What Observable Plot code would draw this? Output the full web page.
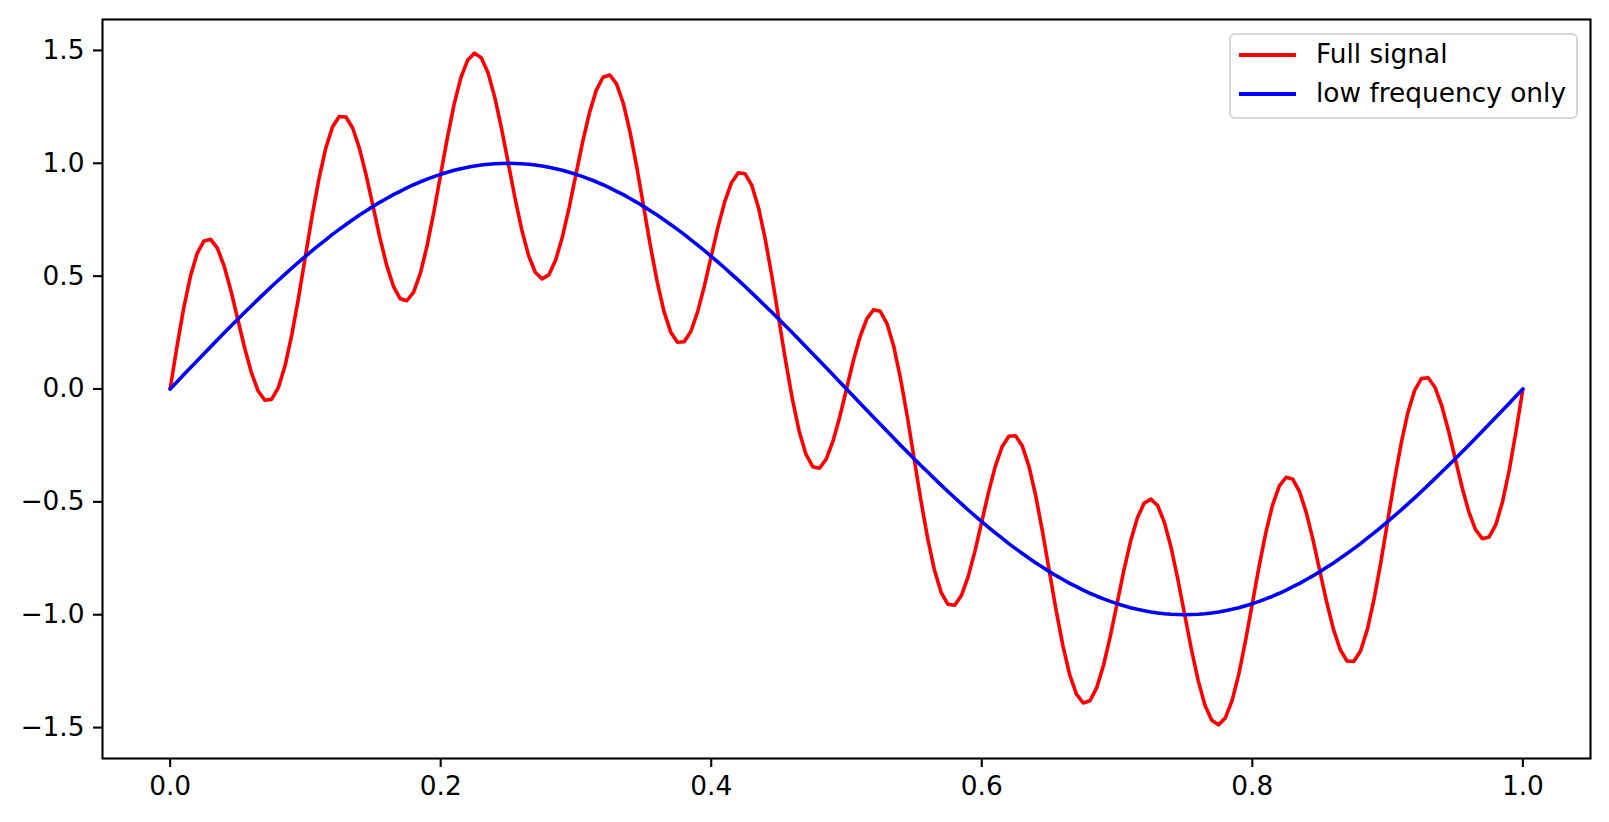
<!DOCTYPE html>
<html>
<head>
<meta charset="utf-8">
<script src="https://cdn.jsdelivr.net/npm/d3@7"></script>
<script src="https://cdn.jsdelivr.net/npm/@observablehq/plot@0.6"></script>
<style>
  html, body { margin: 0; padding: 0; background: #fff; }
  #wrap { position: relative; width: 1609px; height: 822px; font-family: "DejaVu Sans", sans-serif; }
  #legend { position: absolute; left: 1229px; top: 33px; width: 345px; height: 82px;
    border: 2px solid #d6d6d6; border-radius: 6px; background: rgba(255,255,255,0.8); box-sizing: content-box; }
  .item { position: absolute; left: 0; height: 30px; display: flex; align-items: center; font-size: 26.4px; color: #000; white-space: nowrap; }
  .swatch { position: absolute; left: 8px; width: 57px; height: 3.5px; }
  .label { position: absolute; left: 85px; line-height: 30px; top: -16px; }
</style>
</head>
<body>
<div id="wrap"></div>
<script>
const xs = [
0.000,0.005,0.010,0.015,0.020,0.025,0.030,0.035,0.040,0.045,
0.050,0.055,0.060,0.065,0.070,0.075,0.080,0.085,0.090,0.095,
0.100,0.105,0.110,0.115,0.120,0.125,0.130,0.135,0.140,0.145,
0.150,0.155,0.160,0.165,0.170,0.175,0.180,0.185,0.190,0.195,
0.200,0.205,0.210,0.215,0.220,0.225,0.230,0.235,0.240,0.245,
0.250,0.255,0.260,0.265,0.270,0.275,0.280,0.285,0.290,0.295,
0.300,0.305,0.310,0.315,0.320,0.325,0.330,0.335,0.340,0.345,
0.350,0.355,0.360,0.365,0.370,0.375,0.380,0.385,0.390,0.395,
0.400,0.405,0.410,0.415,0.420,0.425,0.430,0.435,0.440,0.445,
0.450,0.455,0.460,0.465,0.470,0.475,0.480,0.485,0.490,0.495,
0.500,0.505,0.510,0.515,0.520,0.525,0.530,0.535,0.540,0.545,
0.550,0.555,0.560,0.565,0.570,0.575,0.580,0.585,0.590,0.595,
0.600,0.605,0.610,0.615,0.620,0.625,0.630,0.635,0.640,0.645,
0.650,0.655,0.660,0.665,0.670,0.675,0.680,0.685,0.690,0.695,
0.700,0.705,0.710,0.715,0.720,0.725,0.730,0.735,0.740,0.745,
0.750,0.755,0.760,0.765,0.770,0.775,0.780,0.785,0.790,0.795,
0.800,0.805,0.810,0.815,0.820,0.825,0.830,0.835,0.840,0.845,
0.850,0.855,0.860,0.865,0.870,0.875,0.880,0.885,0.890,0.895,
0.900,0.905,0.910,0.915,0.920,0.925,0.930,0.935,0.940,0.945,
0.950,0.955,0.960,0.965,0.970,0.975,0.980,0.985,0.990,0.995,
1.000
];

const fullSignal = [
0.000,0.186,0.357,0.499,0.601,0.656,0.663,0.623,0.543,0.434,
0.309,0.184,0.074,-0.008,-0.050,-0.046,0.006,0.104,0.242,0.407,
0.588,0.768,0.931,1.066,1.161,1.207,1.205,1.155,1.065,0.945,
0.809,0.672,0.550,0.456,0.400,0.391,0.429,0.513,0.636,0.786,
0.951,1.115,1.263,1.381,1.458,1.488,1.468,1.401,1.292,1.154,
1.000,0.844,0.704,0.591,0.516,0.488,0.506,0.571,0.675,0.805,
0.951,1.096,1.224,1.323,1.381,1.391,1.352,1.266,1.138,0.982,
0.809,0.635,0.477,0.345,0.253,0.207,0.209,0.256,0.343,0.458,
0.588,0.717,0.830,0.914,0.958,0.954,0.902,0.802,0.662,0.494,
0.309,0.124,-0.045,-0.187,-0.289,-0.344,-0.351,-0.311,-0.231,-0.124,
0.000,0.124,0.231,0.311,0.351,0.344,0.289,0.187,0.045,-0.124,
-0.309,-0.494,-0.662,-0.802,-0.902,-0.954,-0.958,-0.914,-0.830,-0.717,
-0.588,-0.458,-0.343,-0.256,-0.209,-0.207,-0.253,-0.345,-0.477,-0.635,
-0.809,-0.982,-1.138,-1.266,-1.352,-1.391,-1.381,-1.323,-1.224,-1.096,
-0.951,-0.805,-0.675,-0.571,-0.506,-0.488,-0.516,-0.591,-0.704,-0.844,
-1.000,-1.154,-1.292,-1.401,-1.468,-1.488,-1.458,-1.381,-1.263,-1.115,
-0.951,-0.786,-0.636,-0.513,-0.429,-0.391,-0.400,-0.456,-0.550,-0.672,
-0.809,-0.945,-1.065,-1.155,-1.205,-1.207,-1.161,-1.066,-0.931,-0.768,
-0.588,-0.407,-0.242,-0.104,-0.006,0.046,0.050,0.008,-0.074,-0.184,
-0.309,-0.434,-0.543,-0.623,-0.663,-0.656,-0.601,-0.499,-0.357,-0.186,
0.000
];

const lowFrequency = [
0.000,0.031,0.063,0.094,0.125,0.156,0.187,0.218,0.249,0.279,
0.309,0.339,0.368,0.397,0.426,0.454,0.482,0.509,0.536,0.562,
0.588,0.613,0.637,0.661,0.685,0.707,0.729,0.750,0.771,0.790,
0.809,0.827,0.844,0.861,0.876,0.891,0.905,0.918,0.930,0.941,
0.951,0.960,0.969,0.976,0.982,0.988,0.992,0.996,0.998,0.999,
1.000,0.999,0.998,0.996,0.992,0.988,0.982,0.976,0.969,0.960,
0.951,0.941,0.930,0.918,0.905,0.891,0.876,0.861,0.844,0.827,
0.809,0.790,0.771,0.750,0.729,0.707,0.685,0.661,0.637,0.613,
0.588,0.562,0.536,0.509,0.482,0.454,0.426,0.397,0.368,0.339,
0.309,0.279,0.249,0.218,0.187,0.156,0.125,0.094,0.063,0.031,
0.000,-0.031,-0.063,-0.094,-0.125,-0.156,-0.187,-0.218,-0.249,-0.279,
-0.309,-0.339,-0.368,-0.397,-0.426,-0.454,-0.482,-0.509,-0.536,-0.562,
-0.588,-0.613,-0.637,-0.661,-0.685,-0.707,-0.729,-0.750,-0.771,-0.790,
-0.809,-0.827,-0.844,-0.861,-0.876,-0.891,-0.905,-0.918,-0.930,-0.941,
-0.951,-0.960,-0.969,-0.976,-0.982,-0.988,-0.992,-0.996,-0.998,-0.999,
-1.000,-0.999,-0.998,-0.996,-0.992,-0.988,-0.982,-0.976,-0.969,-0.960,
-0.951,-0.941,-0.930,-0.918,-0.905,-0.891,-0.876,-0.861,-0.844,-0.827,
-0.809,-0.790,-0.771,-0.750,-0.729,-0.707,-0.685,-0.661,-0.637,-0.613,
-0.588,-0.562,-0.536,-0.509,-0.482,-0.454,-0.426,-0.397,-0.368,-0.339,
-0.309,-0.279,-0.249,-0.218,-0.187,-0.156,-0.125,-0.094,-0.063,-0.031,
0.000
];

const xTicks = [0.0, 0.2, 0.4, 0.6, 0.8, 1.0];
const yTicks = [-1.5, -1.0, -0.5, 0.0, 0.5, 1.0, 1.5];
const seriesNames = ["Full signal", "low frequency only"];
const seriesColors = ["red", "blue"];

const data = xs.map((x, i) => ({x, full: fullSignal[i], low: lowFrequency[i]}));

const chart = Plot.plot({
  width: 1609,
  height: 822,
  marginLeft: 102,
  marginRight: 19,
  marginTop: 19,
  marginBottom: 64,
  style: {fontFamily: "DejaVu Sans, sans-serif", fontSize: "26.4px", color: "black", background: "white", overflow: "visible"},
  x: {domain: [-0.05, 1.05]},
  y: {domain: [-1.637, 1.637]},
  marks: [
    Plot.axisX({ticks: xTicks, tickFormat: d3.format(".1f"), tickSize: 9, tickPadding: 9, strokeWidth: 2.1, label: null}),
    Plot.axisY({ticks: yTicks, tickFormat: d3.format(".1f"), tickSize: 9, tickPadding: 9, strokeWidth: 2.1, label: null}),
    Plot.lineY(data, {x: "x", y: "full", stroke: seriesColors[0], strokeWidth: 3.6}),
    Plot.lineY(data, {x: "x", y: "low", stroke: seriesColors[1], strokeWidth: 3.6}),
    Plot.frame({stroke: "black", strokeWidth: 2.1})
  ]
});

const wrap = document.getElementById("wrap");
wrap.appendChild(chart);

const legend = document.createElement("div");
legend.id = "legend";
seriesNames.forEach((name, i) => {
  const item = document.createElement("div");
  item.className = "item";
  item.style.top = (20 + i * 39) + "px";
  const sw = document.createElement("div");
  sw.className = "swatch";
  sw.style.background = seriesColors[i];
  sw.style.top = "-1.75px";
  const lab = document.createElement("div");
  lab.className = "label";
  lab.textContent = name;
  item.appendChild(sw);
  item.appendChild(lab);
  legend.appendChild(item);
});
wrap.appendChild(legend);
</script>
</body>
</html>
